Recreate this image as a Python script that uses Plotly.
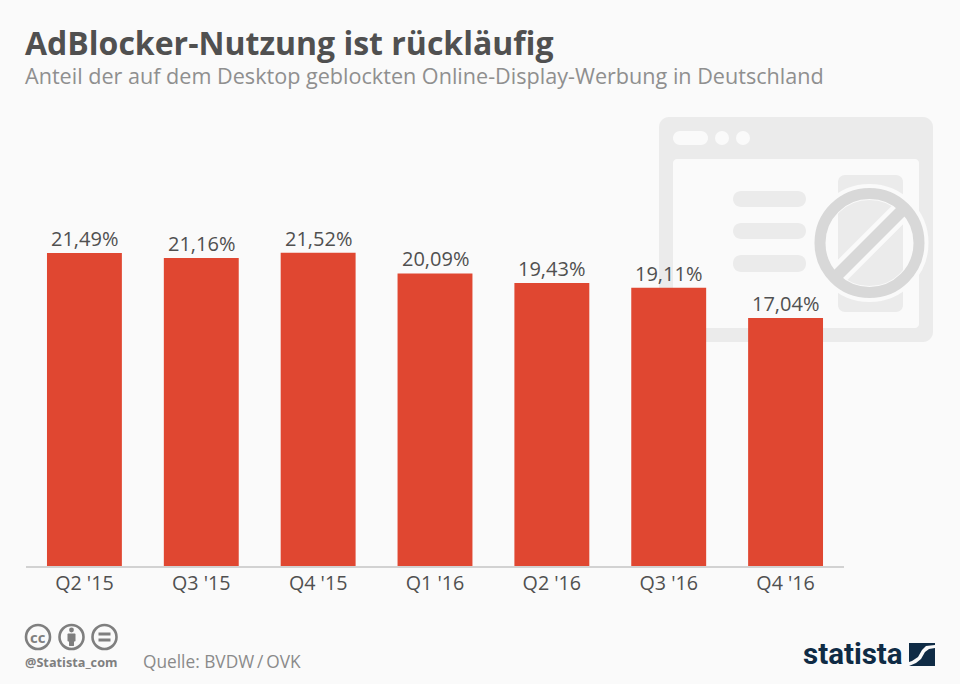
import plotly.graph_objects as go

categories = ["Q2 '15", "Q3 '15", "Q4 '15", "Q1 '16", "Q2 '16", "Q3 '16", "Q4 '16"]
shares = [21.49, 21.16, 21.52, 20.09, 19.43, 19.11, 17.04]
title_text = "AdBlocker-Nutzung ist rückläufig"
subtitle_text = "Anteil der auf dem Desktop geblockten Online-Display-Werbung in Deutschland"
source_text = "Quelle: BVDW\u2009/\u2009OVK"

W, H = 960, 684
ML, MR, MT, MB = 26, 116, 202, 118
BG = "#fafafa"
ICON = "#ebebeb"
RING = "#d8d8d8"
TEXT = "#505050"
NAVY = "#0f2b45"
FONT = "Open Sans"


def px(x):
    return (x - ML) / (W - ML - MR)


def py(y):
    return (H - MB - y) / (H - MT - MB)


def rrect(x0, y0, x1, y1, r):
    k = r * 0.45
    pts = [
        f"M{px(x0 + r)},{py(y0)}", f"L{px(x1 - r)},{py(y0)}",
        f"C{px(x1 - k)},{py(y0)} {px(x1)},{py(y0 + k)} {px(x1)},{py(y0 + r)}",
        f"L{px(x1)},{py(y1 - r)}",
        f"C{px(x1)},{py(y1 - k)} {px(x1 - k)},{py(y1)} {px(x1 - r)},{py(y1)}",
        f"L{px(x0 + r)},{py(y1)}",
        f"C{px(x0 + k)},{py(y1)} {px(x0)},{py(y1 - k)} {px(x0)},{py(y1 - r)}",
        f"L{px(x0)},{py(y0 + r)}",
        f"C{px(x0)},{py(y0 + k)} {px(x0 + k)},{py(y0)} {px(x0 + r)},{py(y0)}Z",
    ]
    return "".join(pts)


def box(x0, y0, x1, y1, r, fill, layer="below"):
    return dict(type="path", xref="paper", yref="paper", layer=layer,
                path=rrect(x0, y0, x1, y1, r), fillcolor=fill, line_width=0)


def circle(cx, cy, r, fill=None, line=None, w=0, layer="below"):
    return dict(type="circle", xref="paper", yref="paper", layer=layer,
                x0=px(cx - r), x1=px(cx + r), y0=py(cy + r), y1=py(cy - r),
                fillcolor=fill or "rgba(0,0,0,0)",
                line=dict(color=line or "rgba(0,0,0,0)", width=w))


def seg(x0, y0, x1, y1, color, w, layer="below"):
    return dict(type="line", xref="paper", yref="paper", layer=layer,
                x0=px(x0), x1=px(x1), y0=py(y0), y1=py(y1),
                line=dict(color=color, width=w))


def poly(points, fill, layer="above"):
    d = "M" + "L".join(f"{px(a)},{py(b)}" for a, b in points) + "Z"
    return dict(type="path", xref="paper", yref="paper", layer=layer,
                path=d, fillcolor=fill, line_width=0)


GREY = "#7f7f7f"
shapes = [
    # browser window
    box(659, 117, 933, 342, 10, ICON),
    box(673, 159, 919, 328, 4, BG),
    box(673, 131, 708, 145, 7, BG),
    circle(722, 138, 7, BG),
    circle(743, 138, 7, BG),
    box(733, 191, 806, 207, 8, ICON),
    box(733, 223, 806, 239, 8, ICON),
    box(733, 255, 806, 272, 8, ICON),
    box(838, 175, 903, 312, 7, ICON),
    # prohibition sign
    circle(869.5, 243, 51, None, BG, 16),
    seg(834.5, 278, 904.5, 208, BG, 21),
    seg(834.5, 278, 904.5, 208, RING, 12),
    circle(869.5, 243, 49.5, None, RING, 11),
    # licence icons
    circle(38, 637, 12, BG, GREY, 2.6, "above"),
    circle(71.5, 637, 12, BG, GREY, 2.6, "above"),
    circle(104.5, 637, 12, BG, GREY, 2.6, "above"),
    circle(71.5, 630, 2.4, GREY, None, 0, "above"),
    box(67.5, 633.5, 75.5, 641.5, 1, GREY, "above"),
    box(69, 640, 74, 646, 0.5, GREY, "above"),
    box(98.5, 632.5, 110.5, 635.5, 0, GREY, "above"),
    box(98.5, 638.5, 110.5, 641.5, 0, GREY, "above"),
    # statista mark
    poly([(909, 643), (935, 643), (935, 645), (926, 646), (922, 650), (918, 657),
          (912, 661), (909, 662)], NAVY),
    poly([(935, 648), (935, 666), (909, 666), (916, 663), (921, 659), (925, 652), (929, 649)], NAVY),
]

annotations = [
    dict(text=f"<b>{title_text}</b>", x=px(23), y=py(42), font=dict(size=32, color=TEXT, family=FONT)),
    dict(text=subtitle_text, x=px(23), y=py(76), font=dict(size=21.6, color="#8f8f8f", family=FONT)),
    dict(text="<b>@Statista_com</b>", x=px(23), y=py(662), font=dict(size=12.7, color=GREY, family=FONT)),
    dict(text=source_text, x=px(141), y=py(661), font=dict(size=17.3, color="#8a8a8a", family=FONT)),
    dict(text="<b>statista</b>", x=px(801), y=py(654), font=dict(size=29.5, color=NAVY, family="Roboto")),
]
for a in annotations:
    a.update(xref="paper", yref="paper", xanchor="left", yanchor="middle", showarrow=False, align="left")
annotations.append(dict(text="<b>cc</b>", xref="paper", yref="paper", x=px(38), y=py(636.5),
                        xanchor="center", yanchor="middle", showarrow=False,
                        font=dict(size=15, color=GREY, family=FONT)))
# value labels, tied to the data through the axes
for cat, val in zip(categories, shares):
    annotations.append(dict(text=f"{val:.2f}%".replace(".", ","), x=cat, y=val, xref="x", yref="y",
                            xanchor="center", yanchor="bottom", yshift=-1, showarrow=False,
                            font=dict(size=20, color=TEXT, family=FONT)))

fig = go.Figure(go.Bar(
    x=categories,
    y=shares,
    marker=dict(color="#e04731", line_width=0),
    hoverinfo="skip",
))

fig.update_layout(
    width=W, height=H,
    margin=dict(l=ML, r=MR, t=MT, b=MB),
    paper_bgcolor=BG,
    plot_bgcolor="rgba(0,0,0,0)",
    bargap=0.359,
    showlegend=False,
    shapes=shapes,
    annotations=annotations,
    font=dict(family=FONT, color=TEXT),
    xaxis=dict(type="category", showgrid=False, ticks="", showline=True, linecolor="#d2d2d2", linewidth=2,
               ticklabelstandoff=-2, tickfont=dict(size=19.7, color=TEXT, family=FONT)),
    yaxis=dict(range=[0, 25], visible=False, showgrid=False, zeroline=False),
)

fig.write_html("out.html", config=dict(displayModeBar=False),
               post_script="document.body.style.margin='0';document.body.style.overflow='hidden';")
